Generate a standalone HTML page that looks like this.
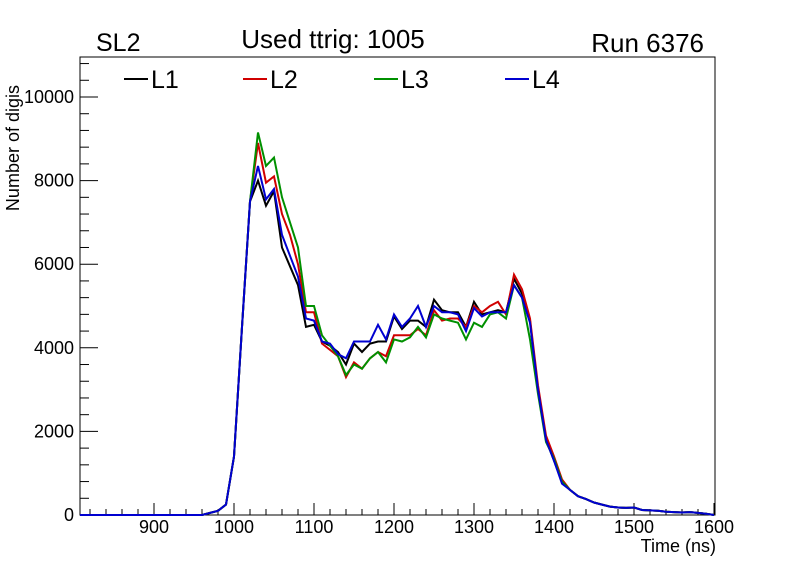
<!DOCTYPE html><html><head><meta charset="utf-8"><style>body{margin:0;background:#fff}svg{display:block;font-family:"Liberation Sans",sans-serif}</style></head><body>
<svg id="s" width="796" height="572" xmlns="http://www.w3.org/2000/svg">
<rect x="80" y="57" width="635" height="458" fill="none" stroke="#000" stroke-width="1"/>
<g id="ax" stroke="#000" stroke-width="1"></g>
<g font-size="18" text-anchor="end" id="yl"></g>
<g font-size="18" text-anchor="middle" id="xl"></g>
<text x="716" y="552" font-size="18" text-anchor="end">Time (ns)</text>
<text x="19" y="85" font-size="18" text-anchor="end" transform="rotate(-90 19 85)">Number of digis</text>
<text x="96" y="51" font-size="25">SL2</text>
<text x="333" y="48" font-size="26" text-anchor="middle">Used ttrig: 1005</text>
<text x="704" y="52" font-size="26" text-anchor="end">Run 6376</text>
<g font-size="25" stroke-width="2">
<line x1="124" y1="79" x2="148" y2="79" stroke="#000"/><text x="151" y="88">L1</text>
<line x1="243" y1="79" x2="267" y2="79" stroke="#d00000"/><text x="270" y="88">L2</text>
<line x1="374" y1="79" x2="398" y2="79" stroke="#009000"/><text x="401" y="88">L3</text>
<line x1="505" y1="79" x2="529" y2="79" stroke="#0000d0"/><text x="532" y="88">L4</text>
</g>
<g id="lines" fill="none" stroke-width="2"></g>
</svg>
<script>
var NS="http://www.w3.org/2000/svg";
function el(p,t,a,txt){var e=document.createElementNS(NS,t);for(var k in a)e.setAttribute(k,a[k]);if(txt)e.textContent=txt;document.getElementById(p).appendChild(e);}
var X=function(t){return 234+(t-1000)*0.8},Y=function(v){return 515-v*0.0418};
for(var t=820;t<=1600;t+=20){var M=t%100==0;el("ax","line",{x1:X(t),x2:X(t),y1:515,y2:515-(M?12:6)});if(M)el("xl","text",{x:X(t),y:533},""+t);}
for(var v=0;v<=10800;v+=400){var M=v%2000==0;el("ax","line",{x1:80,x2:80+(M?18:9),y1:Y(v),y2:Y(v)});if(M)el("yl","text",{x:74,y:Y(v)+6},""+v);}
var common=[[960,0],[970,50],[980,100],[990,250],[1000,1400],[1010,4500],[1020,7500]];
var S={
"#000":[8000,7400,7750,6400,5950,5500,4500,4550,4150,4050,3900,3600,4100,3900,4100,4150,4150,4750,4450,4650,4650,4500,5150,4900,4850,4850,4500,5100,4800,4850,4900,4850,5650,5300,4650,3000,1800,1300,800],
"#d00000":[8900,7950,8100,7200,6700,6000,4850,4850,4100,3950,3800,3300,3650,3500,3750,3900,3800,4300,4300,4300,4450,4300,4900,4650,4700,4700,4500,5000,4850,5000,5100,4800,5750,5400,4700,3100,1900,1400,850],
"#009000":[9150,8350,8550,7600,7000,6400,5000,5000,4300,4050,3800,3350,3600,3500,3750,3900,3650,4200,4150,4250,4500,4250,4800,4700,4650,4600,4200,4600,4500,4800,4850,4700,5500,5200,4200,2900,1750,1350,800],
"#0000d0":[8350,7550,7800,6700,6200,5700,4700,4650,4150,4100,3850,3750,4150,4150,4150,4550,4200,4800,4500,4700,5000,4500,5000,4850,4850,4800,4400,4950,4750,4850,4850,4850,5500,5200,4600,3000,1800,1300,750]};
var tail=[600,450,380,300,250,200,180,170,180,120,110,100,80,70,60,70,50,30,0];
for(var c in S){var pts=[[80,515],[X(950),515]];common.forEach(function(p){pts.push([X(p[0]),Y(p[1])])});
S[c].forEach(function(v,i){pts.push([X(1030+10*i),Y(v)])});tail.forEach(function(v,i){pts.push([X(1420+10*i),Y(v)])});
el("lines","polyline",{stroke:c,points:pts.map(function(p){return p[0].toFixed(1)+","+p[1].toFixed(1)}).join(" ")});}
</script>
</body></html>
